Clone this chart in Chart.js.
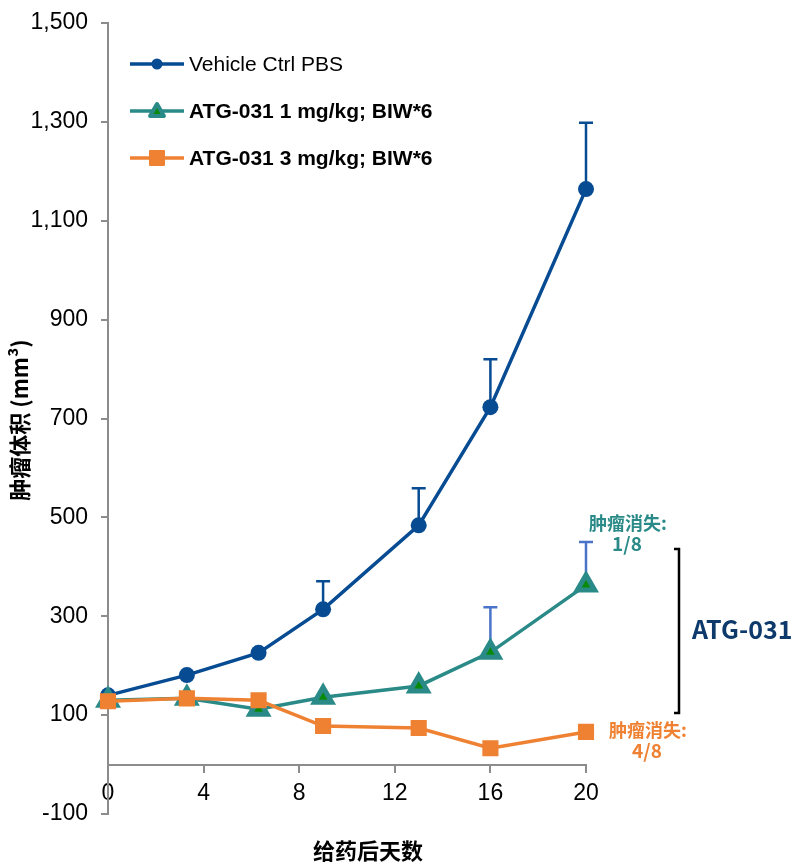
<!DOCTYPE html>
<html>
<head>
<meta charset="utf-8">
<script src="https://cdn.jsdelivr.net/npm/chart.js@4.4.1/dist/chart.umd.min.js"></script>
<style>
html,body{margin:0;padding:0;background:#fff;}
canvas{display:block;}
</style>
</head>
<body>
<canvas id="c" width="795" height="863" style="width:795px;height:863px"></canvas>
<script>
// ---- data ----
const days = [0, 3.3, 6.3, 9, 13, 16, 20];
const vehicle = [140, 181, 226, 314, 484, 723, 1164];
const vehicleErr = [0, 0, 0, 57, 75, 97, 134];
const atg1 = [130, 134, 112, 136, 159, 227, 363];
const atg1Err = [0, 0, 0, 0, 0, 91, 87];
const atg3 = [128, 134, 130, 78, 74, 33, 66];
const seriesNames = ['Vehicle Ctrl PBS', 'ATG-031 1 mg/kg; BIW*6', 'ATG-031 3 mg/kg; BIW*6'];
const xTicks = [0, 4, 8, 12, 16, 20];
const yTicks = [-100, 100, 300, 500, 700, 900, 1100, 1300, 1500];
const xTitle = '给药后天数';
const yTitle = '肿瘤体积 (mm³)';
const note1 = ['肿瘤消失:', '1/8'];
const note2 = ['肿瘤消失:', '4/8'];
const groupLabel = 'ATG-031';

const NAVY = '#074B93', TEAL = '#2A8A87', ORANGE = '#EF8133', GREEN = '#0A8A0A', ERRBLUE = '#4A74C9', AXIS = '#8c8c8c';
const LATIN = '"Liberation Sans", Arial, "Noto Sans CJK SC", sans-serif';
const CJK = '"Noto Sans CJK SC", "Liberation Sans", sans-serif';

const pts = arr => days.map((d, i) => ({x: d, y: arr[i]}));

const errorBars = {
  id: 'errorBars',
  beforeDatasetsDraw(chart) {
    const ctx = chart.ctx, xs = chart.scales.x, ys = chart.scales.y;
    chart.data.datasets.forEach(ds => {
      if (!ds.errors) return;
      ctx.save();
      ctx.strokeStyle = ds.errColor;
      ctx.lineWidth = 2.5;
      ds.errors.forEach((e, i) => {
        if (!e) return;
        const px = xs.getPixelForValue(days[i]);
        const y0 = ys.getPixelForValue(ds.data[i].y);
        const y1 = ys.getPixelForValue(ds.data[i].y + e);
        ctx.beginPath();
        ctx.moveTo(px, y0); ctx.lineTo(px, y1);
        ctx.moveTo(px - 7, y1); ctx.lineTo(px + 7, y1);
        ctx.stroke();
      });
      ctx.restore();
    });
  }
};

function drawMarker(ctx, style, x, y, color, inner) {
  ctx.save();
  if (style === 'circle') {
    ctx.fillStyle = color;
    ctx.beginPath(); ctx.arc(x, y, 5.5, 0, Math.PI * 2); ctx.fill();
  } else if (style === 'triangle') {
    const r = 8;
    ctx.beginPath();
    for (let k = 0; k < 3; k++) {
      const a = -Math.PI / 2 + k * 2 * Math.PI / 3;
      const px = x + r * Math.cos(a), py = y + 1 + r * Math.sin(a);
      k ? ctx.lineTo(px, py) : ctx.moveTo(px, py);
    }
    ctx.closePath();
    ctx.fillStyle = inner; ctx.strokeStyle = color; ctx.lineWidth = 4; ctx.lineJoin = 'round';
    ctx.fill(); ctx.stroke();
  } else {
    ctx.fillStyle = color; ctx.strokeStyle = color; ctx.lineWidth = 2; ctx.lineJoin = 'round';
    ctx.beginPath(); ctx.rect(x - 7, y - 7, 14, 14); ctx.fill(); ctx.stroke();
  }
  ctx.restore();
}

const decorations = {
  id: 'decorations',
  afterDraw(chart) {
    const ctx = chart.ctx;
    ctx.save();
    // legend
    const rows = [
      {name: seriesNames[0], color: NAVY, style: 'circle', bold: false, y: 64},
      {name: seriesNames[1], color: TEAL, style: 'triangle', bold: true, y: 111},
      {name: seriesNames[2], color: ORANGE, style: 'rect', bold: true, y: 158}
    ];
    rows.forEach(r => {
      ctx.strokeStyle = r.color; ctx.lineWidth = 3.5;
      ctx.beginPath(); ctx.moveTo(130, r.y); ctx.lineTo(184, r.y); ctx.stroke();
      drawMarker(ctx, r.style, 157, r.y, r.color, GREEN);
      ctx.fillStyle = '#000';
      ctx.font = (r.bold ? 'bold ' : '') + '21px ' + LATIN;
      ctx.textAlign = 'left'; ctx.textBaseline = 'middle';
      ctx.fillText(r.name, 189, r.y + 1);
    });
    // axis titles
    ctx.fillStyle = '#000';
    ctx.font = 'bold 22px ' + CJK;
    ctx.textAlign = 'center'; ctx.textBaseline = 'middle';
    ctx.fillText(xTitle, 368, 851);
    ctx.save();
    ctx.translate(20, 420); ctx.rotate(-Math.PI / 2);
    ctx.fillText(yTitle, 0, 0);
    ctx.restore();
    // annotations
    ctx.font = 'bold 18px ' + CJK;
    ctx.fillStyle = TEAL;
    ctx.fillText(note1[0], 628, 523);
    ctx.font = 'bold 19px ' + CJK;
    ctx.fillText(note1[1], 627, 544);
    ctx.font = 'bold 18px ' + CJK;
    ctx.fillStyle = ORANGE;
    ctx.fillText(note2[0], 648, 730);
    ctx.font = 'bold 19px ' + CJK;
    ctx.fillText(note2[1], 647, 751);
    // bracket
    ctx.strokeStyle = '#000'; ctx.lineWidth = 2.5;
    ctx.beginPath();
    ctx.moveTo(674, 549); ctx.lineTo(679, 549); ctx.lineTo(679, 713); ctx.lineTo(674, 713);
    ctx.stroke();
    ctx.fillStyle = '#0D3A6B';
    ctx.font = 'bold 25px ' + CJK;
    ctx.textAlign = 'left';
    ctx.fillText(groupLabel, 692, 629);
    ctx.restore();
  }
};

const gridOpts = {drawOnChartArea: false, drawTicks: true, tickLength: 7, color: AXIS, lineWidth: 2};

new Chart(document.getElementById('c'), {
  type: 'line',
  data: {
    datasets: [
      {label: seriesNames[0], data: pts(vehicle), errors: vehicleErr, errColor: NAVY, clip: false,
       borderColor: NAVY, backgroundColor: NAVY, borderWidth: 3.5, pointStyle: 'circle',
       pointRadius: 8, pointBorderWidth: 0, pointBackgroundColor: NAVY, order: 2},
      {label: seriesNames[1], data: pts(atg1), errors: atg1Err, errColor: ERRBLUE, clip: false,
       borderColor: TEAL, backgroundColor: GREEN, borderWidth: 3.5, pointStyle: 'triangle',
       pointRadius: 10, pointBorderWidth: 5, pointBorderColor: TEAL, pointBackgroundColor: GREEN, order: 1},
      {label: seriesNames[2], data: pts(atg3), clip: false,
       borderColor: ORANGE, backgroundColor: ORANGE, borderWidth: 3.5, pointStyle: 'rect',
       pointRadius: 10, pointBorderWidth: 2, pointBorderColor: ORANGE, pointBackgroundColor: ORANGE, order: 0}
    ]
  },
  options: {
    responsive: false,
    animation: false,
    events: [],
    layout: {padding: {left: 0, top: 23, right: 209, bottom: 49}},
    plugins: {legend: {display: false}, tooltip: {enabled: false}, title: {display: false}},
    elements: {line: {tension: 0}, point: {borderJoinStyle: 'round'}},
    scales: {
      x: {
        type: 'linear', position: {y: 0}, min: 0, max: 20,
        afterBuildTicks: s => { s.ticks = xTicks.map(v => ({value: v})); },
        afterFit: s => { s.paddingLeft = 0; s.paddingRight = 0; s.paddingTop = 0; s.paddingBottom = 0; },
        grid: gridOpts,
        border: {color: AXIS, width: 2},
        ticks: {color: '#000', font: {family: LATIN, size: 23}, padding: 8, maxRotation: 0, autoSkip: false}
      },
      y: {
        type: 'linear', min: -100, max: 1500,
        afterBuildTicks: s => { s.ticks = yTicks.map(v => ({value: v})); },
        afterFit: s => { s.width = 108; s.paddingTop = 0; s.paddingBottom = 0; },
        grid: gridOpts,
        border: {color: AXIS, width: 2},
        ticks: {color: '#000', font: {family: LATIN, size: 23}, padding: 13, autoSkip: false,
                callback: v => v.toLocaleString('en-US')}
      }
    }
  },
  plugins: [errorBars, decorations]
});
</script>
</body>
</html>
